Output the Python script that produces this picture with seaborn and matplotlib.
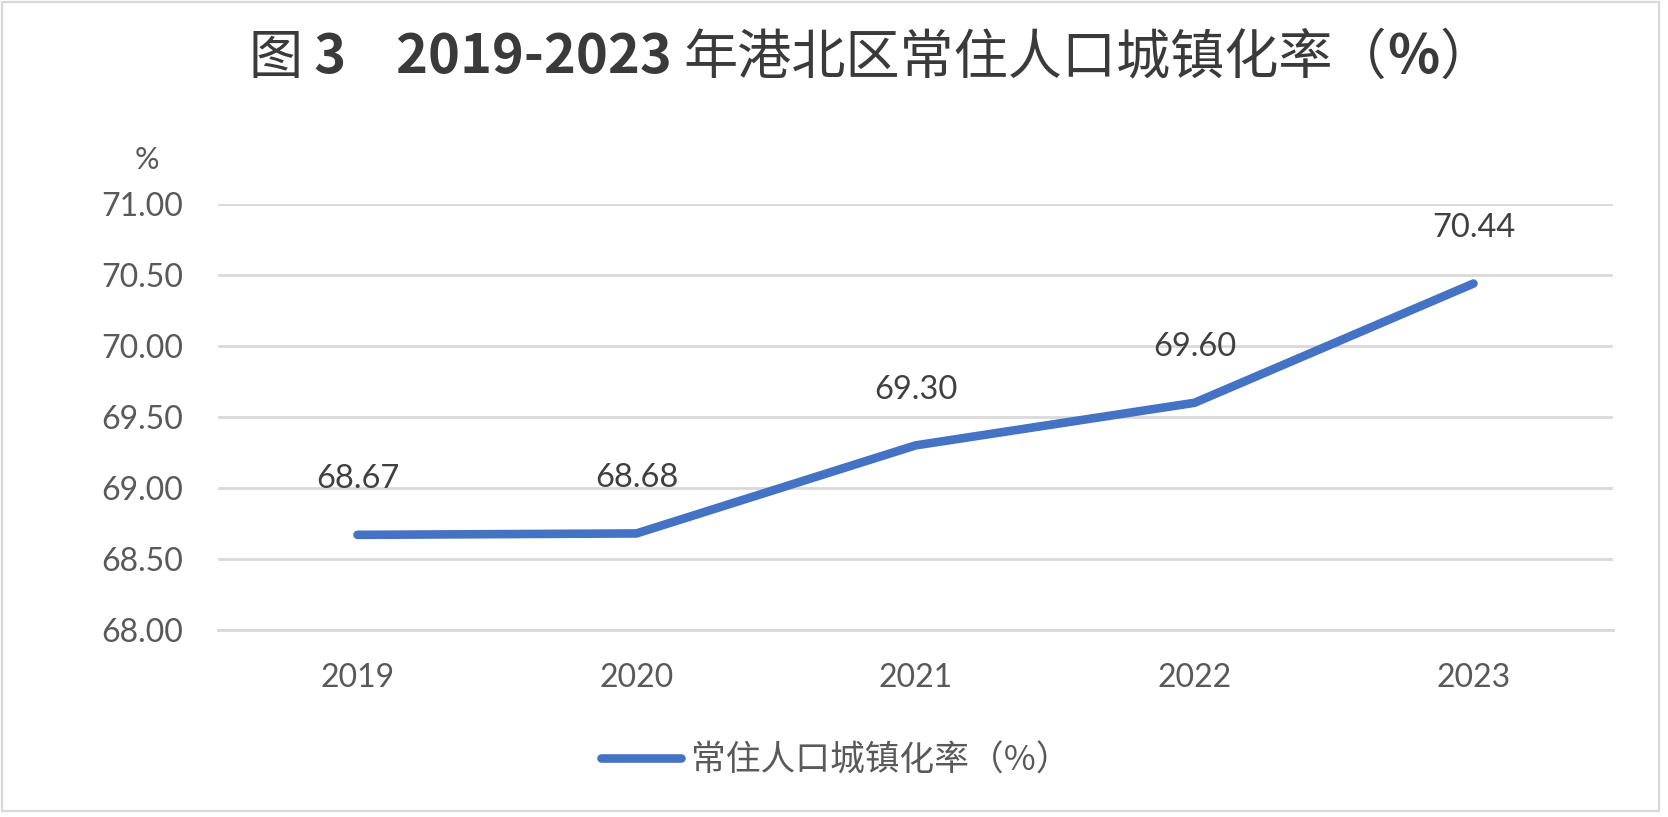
import matplotlib
matplotlib.use("Agg")
import matplotlib.pyplot as plt
import seaborn as sns
import pandas as pd
from matplotlib.patches import Rectangle

years = ["2019", "2020", "2021", "2022", "2023"]
rates = [68.67, 68.68, 69.30, 69.60, 70.44]
yticks = [68.00, 68.50, 69.00, 69.50, 70.00, 70.50, 71.00]
series_name = "常住人口城镇化率（%）"

sns.set_theme(style="white")
plt.rcParams['font.family'] = ['Lato', 'Noto Sans CJK SC', 'DejaVu Sans']

W, H = 1668, 817
fig = plt.figure(figsize=(W / 100, H / 100), dpi=100)
ax = fig.add_axes([218 / W, 1 - 630 / H, (1613 - 218) / W, (630 - 204) / H])

df = pd.DataFrame({"year": years, "rate": rates})
sns.lineplot(data=df, x="year", y="rate", ax=ax, color="#4472C4", linewidth=6.2,
             label=series_name, legend=False, sort=False)
for line in ax.lines:
    line.set_solid_capstyle("round")
    line.set_solid_joinstyle("round")

ax.set_xlim(-0.5, len(years) - 0.5)
ax.set_ylim(68, 71)
ax.set_yticks(yticks)
ax.set_yticklabels([f"{v:.2f}" for v in yticks])
ax.yaxis.grid(True, color="#D9D9D9", linewidth=2.0)
ax.set_axisbelow(True)
for s in ax.spines.values():
    s.set_visible(False)
ax.spines["bottom"].set_visible(True)
ax.spines["bottom"].set_color("#D9D9D9")
ax.spines["bottom"].set_linewidth(2.0)
ax.tick_params(axis="y", length=0, pad=25, labelsize=23, labelcolor="#595959")
ax.tick_params(axis="x", length=0, pad=24, labelsize=23, labelcolor="#595959")
ax.set_xlabel("")
ax.set_ylabel("")

for i, v in enumerate(rates):
    ax.annotate(f"{v:.2f}", xy=(i, v), xytext=(0, 40), textcoords="offset points",
                ha="center", va="center", fontsize=23.5, color="#404040")

fig.text(147 / W, 1 - 160 / H, "%", ha="center", va="center", fontsize=22, color="#595959")

# legend
handles, labels = ax.get_legend_handles_labels()
leg = fig.legend(handles, labels, loc="center", bbox_to_anchor=(836 / W, 1 - 761 / H),
                 frameon=False, handlelength=2.3, handletextpad=0.3,
                 labelcolor="#595959", prop={"size": 25, "family": ['Noto Sans CJK SC', 'DejaVu Sans']})
for lh in leg.get_lines():
    lh.set_solid_capstyle("round")
    lh.set_linewidth(6.2)

# title composed of pieces
pieces = [
    ("图", "normal"),
    (" 3    ", "bold"),
    ("2019-2023 ", "bold"),
    ("年港北区常住人口城镇化率（", "normal"),
    ("%", "bold"),
    ("）", "normal"),
]
fig.canvas.draw()
renderer = fig.canvas.get_renderer()
texts = []
total = 0
for s, w in pieces:
    t = fig.text(0, 1 - 58 / H, s, ha="left", va="center", fontsize=39,
                 fontweight=w, color="#3A3A3A",
                 family=['Noto Sans CJK SC', 'DejaVu Sans'])
    bb = t.get_window_extent(renderer)
    texts.append((t, bb.width))
    total += bb.width
x = 871 - total / 2
for t, wdt in texts:
    t.set_x(x / W)
    x += wdt

fig.patches.append(Rectangle((2 / W, 6 / H), (1659 - 2) / W, (H - 8) / H,
                             transform=fig.transFigure, fill=False,
                             edgecolor="#D9D9D9", linewidth=1.6))

fig.savefig("out.png", dpi=100)
